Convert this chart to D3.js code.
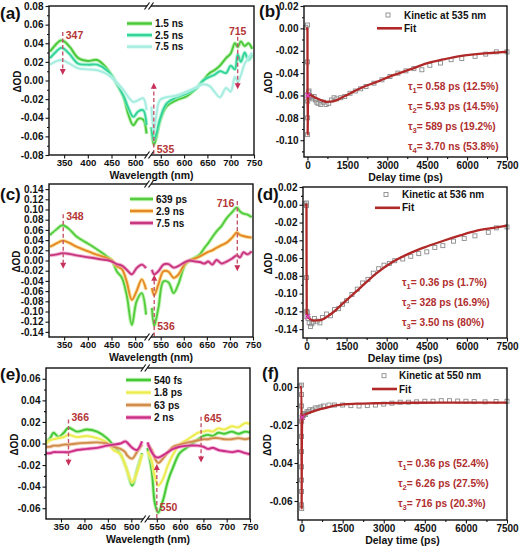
<!DOCTYPE html>
<html><head><meta charset="utf-8">
<script src="https://cdnjs.cloudflare.com/ajax/libs/d3/7.8.5/d3.min.js"></script>
<style>body{margin:0;background:#fff}</style>
</head><body>
<svg id="chart" width="520" height="546" xmlns="http://www.w3.org/2000/svg"></svg>
<script>
// ---------------- DATA ----------------
// Panel (a): TA spectra
const wlA = [320,335,343,350,362,380,400,420,440,457,475,486,496,507,517,524,
             530,535,540,548,562,584,605,627,641,655,665,677,690,700,709,715,722,730,738,746];
const a_1_5ns = [0.031,0.040,0.043,0.042,0.036,0.024,0.021,0.022,0.013,0.000,-0.017,-0.037,-0.048,-0.041,-0.042,-0.057,
             -0.050,-0.069,-0.062,-0.044,-0.028,-0.021,-0.017,-0.008,0.000,0.008,0.011,0.016,0.024,0.029,0.040,0.036,0.042,0.037,0.040,0.034];
const a_2_5ns = [0.024,0.032,0.035,0.034,0.028,0.018,0.017,0.017,0.011,0.000,-0.016,-0.030,-0.039,-0.033,-0.032,-0.048,
             -0.050,-0.064,-0.058,-0.042,-0.025,-0.018,-0.014,-0.008,0.000,0.004,0.006,0.010,0.008,0.016,0.012,0.028,0.020,0.030,0.022,0.028];
const a_7_5ns = [0.017,0.021,0.022,0.021,0.018,0.013,0.012,0.011,0.007,0.000,-0.010,-0.018,-0.023,-0.021,-0.019,-0.032,
             -0.028,-0.055,-0.039,-0.021,-0.018,-0.016,-0.012,-0.007,-0.004,-0.006,-0.012,-0.018,-0.008,-0.012,0.004,-0.002,0.006,0.018,0.024,0.030];
const legendA = ["1.5 ns","2.5 ns","7.5 ns"];

// Panel (c)
const wlC = [320,335,343,348,360,376,395,411,430,440,451,461,472,482,493,503,514,523,
             531,536,545,556,567,578,588,603,613,625,635,645,653,662,671,682,693,705,715,722,729,738,747];
const c_639ps = [0.050,0.062,0.068,0.069,0.062,0.047,0.036,0.027,0.015,0.008,0.000,-0.021,-0.034,-0.067,-0.126,-0.080,-0.064,-0.106,
             -0.093,-0.128,-0.093,-0.041,-0.043,-0.064,-0.047,-0.008,0.000,0.006,0.012,0.025,0.034,0.046,0.057,0.068,0.083,0.095,0.104,0.096,0.092,0.090,0.085];
const c_2_9ns = [0.027,0.034,0.038,0.039,0.035,0.027,0.020,0.014,0.008,0.005,0.000,-0.011,-0.017,-0.041,-0.077,-0.060,-0.037,-0.057,
             -0.054,-0.068,-0.047,-0.021,-0.022,-0.034,-0.028,-0.006,0.000,0.004,0.008,0.013,0.017,0.020,0.025,0.030,0.035,0.045,0.055,0.050,0.048,0.046,0.045];
const c_7_5ns = [0.010,0.012,0.014,0.0145,0.013,0.010,0.007,0.005,0.002,0.001,-0.002,-0.007,-0.010,-0.018,-0.027,-0.015,-0.008,-0.015,
             -0.018,-0.027,-0.021,-0.008,-0.007,-0.014,-0.011,-0.003,0.000,-0.002,-0.003,-0.006,-0.002,-0.008,0.001,-0.006,-0.002,0.004,0.010,0.006,0.016,0.012,0.018];
const legendC = ["639 ps","2.9 ns","7.5 ns"];

// Panel (e)
const wlE = [318,327,334,345,356,366,384,405,427,448,462,477,487,491,502,512,523,
             530,539,546,553,563,574,585,599,617,639,650,660,670,682,695,711,725,740,750];
const e_540fs = [0.001,0.005,0.010,0.006,0.010,0.0146,0.011,0.013,0.011,0.005,-0.002,-0.010,-0.020,-0.025,-0.039,-0.025,-0.009,
             -0.004,-0.025,-0.056,-0.064,-0.053,-0.0345,-0.022,-0.009,-0.003,0.004,0.007,0.008,0.007,0.010,0.009,0.011,0.009,0.011,0.010];
const e_1_8ps = [0.000,0.003,0.004,0.005,0.006,0.008,0.006,0.007,0.005,0.001,-0.006,-0.010,-0.020,-0.025,-0.036,-0.027,-0.010,
             -0.007,-0.016,-0.031,-0.039,-0.033,-0.020,-0.010,-0.001,0.004,0.010,0.011,0.012,0.011,0.014,0.013,0.016,0.015,0.019,0.018];
const e_63ps = [-0.003,-0.003,-0.002,-0.002,-0.001,-0.001,0.000,0.0006,0.001,0.000,-0.003,-0.005,-0.008,-0.011,-0.014,-0.008,-0.001,
             -0.001,-0.006,-0.014,-0.018,-0.014,-0.008,-0.003,-0.001,0.001,0.003,0.004,0.004,0.005,0.005,0.004,0.004,0.005,0.004,0.005];
const e_2ns = [-0.009,-0.009,-0.008,-0.008,-0.008,-0.008,-0.006,-0.005,-0.004,-0.002,-0.001,0.000,0.002,0.001,-0.004,-0.006,0.002,
             0.001,-0.008,-0.012,-0.013,-0.011,-0.008,-0.005,-0.003,-0.002,-0.002,-0.003,-0.005,-0.004,-0.006,-0.007,-0.008,-0.007,-0.009,-0.010];
const legendE = ["540 fs","1.8 ps","63 ps","2 ns"];

// Kinetics (b): [time ps, ΔOD]
const kinB = [[-60,0.001],[0,0.003],[2,-0.030],[4,-0.095],[6,-0.080],[10,-0.065],[20,-0.059],[40,-0.057],[60,-0.056],[80,-0.060],
  [100,-0.062],[150,-0.061],[200,-0.063],[250,-0.061],[300,-0.064],[350,-0.066],[400,-0.067],[500,-0.068],[600,-0.066],[700,-0.068],
  [800,-0.067],[900,-0.064],[1000,-0.062],[1100,-0.063],[1250,-0.062],[1400,-0.061],[1600,-0.058],[1800,-0.056],[2000,-0.054],[2200,-0.052],
  [2500,-0.049],[2800,-0.046],[3100,-0.043],[3400,-0.040],[3700,-0.038],[4000,-0.036],[4300,-0.037],[4600,-0.033],[5000,-0.031],[5400,-0.028],
  [5800,-0.027],[6300,-0.025],[6700,-0.023],[7100,-0.021],[7500,-0.021]];
const fitB = [[-60,0],[0,0],[3,-0.050],[8,-0.095],[20,-0.060],[60,-0.059],[150,-0.060],[300,-0.062],[500,-0.064],[722,-0.0657],
  [1000,-0.065],[1350,-0.0612],[1975,-0.0537],[2600,-0.0478],[3230,-0.0418],[3855,-0.0367],[4480,-0.0313],[5100,-0.0278],[5730,-0.0248],
  [6360,-0.023],[7000,-0.0218],[7500,-0.0209]];
const tauB = ["0.58 ps (12.5%)","5.93 ps (14.5%)","589 ps (19.2%)","3.70 ns (53.8%)"];

// Kinetics (d)
const kinD = [[-60,0.001],[0,0.002],[2,-0.001],[4,-0.082],[8,-0.120],[15,-0.126],[30,-0.121],[60,-0.128],[100,-0.133],[150,-0.137],
  [200,-0.134],[250,-0.132],[300,-0.128],[400,-0.131],[500,-0.133],[600,-0.127],[750,-0.123],[900,-0.125],[1050,-0.118],[1200,-0.117],
  [1350,-0.112],[1500,-0.108],[1700,-0.101],[1900,-0.095],[2100,-0.088],[2300,-0.084],[2500,-0.077],[2700,-0.072],[2900,-0.068],[3100,-0.066],
  [3300,-0.063],[3600,-0.061],[3900,-0.058],[4200,-0.055],[4500,-0.053],[4800,-0.048],[5100,-0.046],[5500,-0.041],[5900,-0.038],[6300,-0.035],
  [6800,-0.031],[7100,-0.026],[7500,-0.025]];
const fitD = [[-60,0],[0,0],[3,-0.060],[10,-0.122],[50,-0.126],[150,-0.129],[300,-0.1305],[500,-0.130],[750,-0.1265],[1000,-0.121],
  [1375,-0.1107],[2000,-0.0938],[2625,-0.0769],[3250,-0.0638],[3875,-0.0544],[4500,-0.047],[5125,-0.0405],[5750,-0.0345],[6375,-0.0292],
  [7000,-0.026],[7500,-0.0235]];
const tauD = ["0.36 ps (1.7%)","328 ps (16.9%)","3.50 ns (80%)"];

// Kinetics (f)
const kinF = [[-60,0.0005],[0,0.001],[0,-0.004],[0,-0.010],[0,-0.018],[0,-0.026],[0,-0.034],[0,-0.042],[0,-0.049],[0,-0.055],[0,-0.062],
  [5,-0.064],[20,-0.016],[40,-0.015],[70,-0.015],[100,-0.014],[150,-0.0145],[200,-0.013],[250,-0.013],[300,-0.012],[400,-0.012],[500,-0.011],
  [600,-0.011],[700,-0.0105],[800,-0.010],[1000,-0.0095],[1200,-0.0095],[1500,-0.0095],[1800,-0.0098],[2100,-0.010],[2400,-0.0098],
  [2700,-0.0095],[3000,-0.009],[3300,-0.0085],[3600,-0.008],[3900,-0.008],[4200,-0.0078],[4500,-0.0075],[4800,-0.0075],[5100,-0.0072],
  [5400,-0.0072],[5700,-0.0074],[6000,-0.0075],[6300,-0.0077],[6700,-0.0078],[7100,-0.0076],[7500,-0.0075]];
const fitF = [[-60,0],[0,0],[3,-0.064],[10,-0.030],[30,-0.016],[100,-0.0148],[300,-0.0135],[600,-0.012],[900,-0.011],[1200,-0.0098],
  [1500,-0.0092],[2000,-0.0088],[2500,-0.0086],[3000,-0.0085],[4000,-0.0083],[5000,-0.0082],[6000,-0.0082],[7500,-0.0082]];
const tauF = ["0.36 ps (52.4%)","6.26 ps (27.5%)","716 ps (20.3%)"];

// Tick labels
const wlTicksLeft = [350,400,450,500];
const wlTicksRight = [550,600,650,700,750];
const timeTicks = [0,1500,3000,4500,6000,7500];
const timeMinor = [750,2250,3750,5250,6750];
const yTicksA = [-0.08,-0.06,-0.04,-0.02,0,0.02,0.04,0.06,0.08];
const yMinorA = [-0.07,-0.05,-0.03,-0.01,0.01,0.03,0.05,0.07];
const yTicksC = [-0.14,-0.12,-0.10,-0.08,-0.06,-0.04,-0.02,0,0.02,0.04,0.06,0.08,0.10,0.12,0.14];
const yTicksE = [-0.06,-0.04,-0.02,0,0.02,0.04,0.06];
const yMinorE = [-0.05,-0.03,-0.01,0.01,0.03,0.05];
const yTicksB = [-0.10,-0.08,-0.06,-0.04,-0.02,0,0.02];
const yMinorB = [-0.11,-0.09,-0.07,-0.05,-0.03,-0.01,0.01];
const yTicksD = [-0.14,-0.12,-0.10,-0.08,-0.06,-0.04,-0.02,0,0.02];
const yMinorD = [-0.13,-0.11,-0.09,-0.07,-0.05,-0.03,-0.01,0.01];
const yTicksF = [-0.06,-0.04,-0.02,0];
const yMinorF = [-0.05,-0.03,-0.01];

// ---------------- DRAWING ----------------
const FONT = "'Liberation Sans', Arial, Helvetica, sans-serif";
const svg = d3.select('#chart');
const INK = '#111';
const ANN_LINE = '#c4566c', ANN_ARROW = '#c8305a', ANN_TEXT = '#b43636', TAU = '#b02e2e', FIT = '#b02828';

function txt(g, x, y, s, size, anchor, color) {
  return g.append('text').attr('x', x).attr('y', y).attr('font-family', FONT).attr('font-weight', 'bold')
    .attr('font-size', size).attr('text-anchor', anchor || 'start').attr('fill', color || INK).text(s);
}
function styleAxis(ax, fs) {
  ax.attr('font-family', FONT).attr('font-size', fs).attr('font-weight', 'bold');
  ax.select('.domain').remove();
  ax.selectAll('line').attr('stroke', INK).attr('stroke-width', 1.1);
  ax.selectAll('text').attr('fill', INK);
}
function yAxes(g, y, x0, major, minor) {
  const ax = g.append('g').attr('transform', `translate(${x0},0)`)
    .call(d3.axisLeft(y).tickValues(major).tickFormat(d => d.toFixed(2)).tickSize(3.5).tickPadding(2));
  styleAxis(ax, 10);
  if (minor) {
    const m = g.append('g').attr('transform', `translate(${x0},0)`)
      .call(d3.axisLeft(y).tickValues(minor).tickFormat('').tickSize(2));
    styleAxis(m, 10);
  }
}
function yTitle(g, x, yc) {
  txt(g, 0, 0, 'ΔOD', 10, 'middle').attr('transform', `translate(${x},${yc}) rotate(-90)`);
}
function frame(g, L) {
  g.append('rect').attr('x', L.x0).attr('y', L.y0).attr('width', L.x1 - L.x0).attr('height', L.y1 - L.y0)
    .attr('fill', 'none').attr('stroke', INK).attr('stroke-width', 1.4);
}
function panelLabel(g, x, y, s) { txt(g, x, y, s, 17, 'start'); }

function arrowHead(g, x, y, dir) {
  const h = 6, w = 3;
  g.append('path').attr('d', `M${x - w},${y - dir * h}L${x + w},${y - dir * h}L${x},${y}Z`).attr('fill', ANN_ARROW);
}

function spectraPanel(L, S) {
  const g = svg.append('g');
  const xL = d3.scaleLinear().domain([318, 525]).range([L.x0, L.bL]);
  const xR = d3.scaleLinear().domain([L.rStart, 750]).range([L.bR, L.x1]);
  const x = nm => nm <= 526 ? xL(nm) : xR(nm);
  const y = d3.scaleLinear().domain(S.yDomain).range([L.y1, L.y0]);
  const line = d3.line().x(p => x(p[0])).y(p => y(p[1])).curve(d3.curveCatmullRom.alpha(0.5));

  S.series.forEach(s => {
    const pts = S.wl.map((w, i) => [w, s.vals[i]]);
    [pts.filter(p => p[0] <= 526), pts.filter(p => p[0] > 526)].forEach(seg => {
      g.append('path').attr('d', line(seg)).attr('fill', 'none').attr('stroke', s.halo)
        .attr('stroke-width', 3.8).attr('stroke-opacity', 0.7).attr('stroke-linejoin', 'round');
      g.append('path').attr('d', line(seg)).attr('fill', 'none').attr('stroke', s.color)
        .attr('stroke-width', 1.9).attr('stroke-linejoin', 'round');
    });
  });

  S.series.forEach((s, i) => {
    const ly = L.legY + i * L.legDy;
    g.append('line').attr('x1', L.legX1).attr('x2', L.legX2).attr('y1', ly).attr('y2', ly)
      .attr('stroke', s.halo).attr('stroke-width', 4.5).attr('stroke-opacity', 0.7);
    g.append('line').attr('x1', L.legX1).attr('x2', L.legX2).attr('y1', ly).attr('y2', ly)
      .attr('stroke', s.color).attr('stroke-width', 2.4);
    txt(g, L.legX2 + 3, ly + 3.6, s.name, 10, 'start');
  });

  S.ann.forEach(a => {
    const ax = x(a.nm);
    const yA = y(a.from), yB = y(a.to);
    const dir = yB > yA ? 1 : -1;
    g.append('line').attr('x1', ax).attr('x2', ax).attr('y1', yA).attr('y2', yB - dir * 4)
      .attr('stroke', ANN_LINE).attr('stroke-width', 1.4).attr('stroke-dasharray', '4,2.5');
    arrowHead(g, ax, yB, dir);
    const tx = a.anchor === 'end' ? ax - 3 : (a.anchor === 'middle' ? ax : ax + 3);
    txt(g, tx, y(a.ly) + 3.8, a.label, 10.5, a.anchor, ANN_TEXT);
  });

  yAxes(g, y, L.x0, S.yMajor, S.yMinor);
  const axl = g.append('g').attr('transform', `translate(0,${L.y1})`)
    .call(d3.axisBottom(xL).tickValues(wlTicksLeft).tickFormat(d => d).tickSize(3.5).tickPadding(1));
  styleAxis(axl, 9.6);
  const axr = g.append('g').attr('transform', `translate(0,${L.y1})`)
    .call(d3.axisBottom(xR).tickValues(wlTicksRight).tickFormat(d => d).tickSize(3.5).tickPadding(1));
  styleAxis(axr, 9.6);
  frame(g, L);
  const xb = (L.bL + L.bR) / 2;
  [L.y0, L.y1].forEach(yy => {
    g.append('rect').attr('x', L.bL).attr('y', yy - 2).attr('width', L.bR - L.bL).attr('height', 4).attr('fill', '#fff');
    [-2, 2].forEach(o => {
      g.append('line').attr('x1', xb + o - 2.5).attr('y1', yy + 3.5).attr('x2', xb + o + 2.5).attr('y2', yy - 3.5)
        .attr('stroke', INK).attr('stroke-width', 1.2);
    });
  });
  txt(g, (L.x0 + L.x1) / 2, L.y1 + 23.5, 'Wavelength (nm)', 10.5, 'middle');
  yTitle(g, L.yTitleX, (L.y0 + L.y1) / 2 + 1);
  panelLabel(g, L.labX, L.labY, S.label);
}

function kineticPanel(L, K) {
  const g = svg.append('g');
  const x = d3.scaleLinear().domain([-130, 7500]).range([L.x0, L.x1]);
  const y = d3.scaleLinear().domain(K.yDomain).range([L.y1, L.y0]);
  g.selectAll(null).data(K.kin).enter().append('rect')
    .attr('x', d => x(d[0]) - 2).attr('y', d => y(d[1]) - 2).attr('width', 4).attr('height', 4)
    .attr('fill', 'none').attr('stroke', '#8c8c8c').attr('stroke-width', 0.9);
  const line = d3.line().x(d => x(d[0])).y(d => y(d[1])).curve(d3.curveMonotoneX);
  g.append('path').attr('d', line(K.fit)).attr('fill', 'none').attr('stroke', FIT).attr('stroke-width', 2.3)
    .attr('stroke-linejoin', 'round');
  const hp = K.fit[4];
  g.append('path').attr('d', `M${x(hp[0]) - 2.5},${y(hp[1]) - 2.5}l5,5M${x(hp[0]) - 2.5},${y(hp[1]) + 2.5}l5,-5`)
    .attr('stroke', '#e040c0').attr('stroke-width', 1.2);
  g.append('rect').attr('x', L.legSqX - 2).attr('y', L.legY - 2).attr('width', 4).attr('height', 4)
    .attr('fill', 'none').attr('stroke', '#8c8c8c').attr('stroke-width', 0.9);
  txt(g, L.legTx, L.legY + 3.6, K.legend, 10, 'start');
  g.append('line').attr('x1', L.fitX1).attr('x2', L.fitX2).attr('y1', L.legY + 13.3).attr('y2', L.legY + 13.3)
    .attr('stroke', FIT).attr('stroke-width', 2.6);
  txt(g, L.legTx, L.legY + 13.3 + 3.6, 'Fit', 10, 'start');
  K.tau.forEach((s, i) => {
    const t = g.append('text').attr('x', L.tauX).attr('y', L.tauY + i * L.tauDy + 3.6)
      .attr('font-family', FONT).attr('font-weight', 'bold').attr('font-size', 10.2).attr('fill', TAU);
    t.append('tspan').text('τ');
    t.append('tspan').attr('font-size', 7.5).attr('dy', 3).text(String(i + 1));
    t.append('tspan').attr('dy', -3).text('= ' + s);
  });
  yAxes(g, y, L.x0, K.yMajor, K.yMinor);
  const ax = g.append('g').attr('transform', `translate(0,${L.y1})`)
    .call(d3.axisBottom(x).tickValues(timeTicks).tickFormat(d => d).tickSize(3.5).tickPadding(1));
  styleAxis(ax, 10);
  const axm = g.append('g').attr('transform', `translate(0,${L.y1})`)
    .call(d3.axisBottom(x).tickValues(timeMinor).tickFormat('').tickSize(2));
  styleAxis(axm, 10);
  frame(g, L);
  txt(g, (L.x0 + L.x1) / 2, L.y1 + 23.5, 'Delay time (ps)', 10.5, 'middle');
  yTitle(g, L.yTitleX, (L.y0 + L.y1) / 2 + 1);
  panelLabel(g, L.labX, L.labY, K.label);
}

spectraPanel(
  {x0: 49, x1: 254, y0: 6, y1: 155, bL: 147, bR: 151, rStart: 529, legX1: 127, legX2: 152, legY: 23.5, legDy: 11.6,
   yTitleX: 21, labX: 0, labY: 19},
  {label: '(a)', wl: wlA, yDomain: [-0.08, 0.08], yMajor: yTicksA, yMinor: yMinorA,
   series: [
     {name: legendA[0], vals: a_1_5ns, color: '#4cc83c', halo: '#a4ec96'},
     {name: legendA[1], vals: a_2_5ns, color: '#34d39a', halo: '#96f2cc'},
     {name: legendA[2], vals: a_7_5ns, color: '#a6ece0', halo: '#d6f9f1'}],
   ann: [
     {nm: 347, from: 0.052, to: 0.006, label: '347', ly: 0.049, anchor: 'start'},
     {nm: 715, from: 0.047, to: -0.0095, label: '715', ly: 0.053, anchor: 'middle'},
     {nm: 535, from: -0.079, to: -0.0024, label: '535', ly: -0.074, anchor: 'start'}]});

spectraPanel(
  {x0: 49, x1: 253, y0: 184, y1: 337, bL: 147, bR: 151, rStart: 529, legX1: 130, legX2: 153, legY: 199, legDy: 12,
   yTitleX: 20, labX: 0, labY: 200},
  {label: '(c)', wl: wlC, yDomain: [-0.15, 0.15], yMajor: yTicksC, yMinor: null,
   series: [
     {name: legendC[0], vals: c_639ps, color: '#55cc3f', halo: '#aaf094'},
     {name: legendC[1], vals: c_2_9ns, color: '#e4882a', halo: '#f8d46e'},
     {name: legendC[2], vals: c_7_5ns, color: '#c8367e', halo: '#ec98c6'}],
   ann: [
     {nm: 348, from: 0.0906, to: -0.016, label: '348', ly: 0.086, anchor: 'start'},
     {nm: 716, from: 0.1166, to: -0.021, label: '716', ly: 0.112, anchor: 'end'},
     {nm: 536, from: -0.149, to: -0.028, label: '536', ly: -0.129, anchor: 'start'}]});

spectraPanel(
  {x0: 46, x1: 250, y0: 368, y1: 519, bL: 143, bR: 147.5, rStart: 530, legX1: 126, legX2: 151, legY: 380, legDy: 12.5,
   yTitleX: 18, labX: 0, labY: 380},
  {label: '(e)', wl: wlE, yDomain: [-0.07, 0.07], yMajor: yTicksE, yMinor: yMinorE,
   series: [
     {name: legendE[0], vals: e_540fs, color: '#44c836', halo: '#a2ec92'},
     {name: legendE[1], vals: e_1_8ps, color: '#ecec50', halo: '#f8f8aa'},
     {name: legendE[2], vals: e_63ps, color: '#d08c4c', halo: '#eec496'},
     {name: legendE[3], vals: e_2ns, color: '#cc2e86', halo: '#ee92c8'}],
   ann: [
     {nm: 366, from: 0.0223, to: -0.0207, label: '366', ly: 0.0246, anchor: 'start'},
     {nm: 645, from: 0.0248, to: -0.0176, label: '645', ly: 0.0239, anchor: 'start'},
     {nm: 550, from: -0.069, to: -0.019, label: '550', ly: -0.059, anchor: 'start'}]});

kineticPanel(
  {x0: 304, x1: 507, y0: 6, y1: 157, legSqX: 388, legY: 15, legTx: 404, fitX1: 377, fitX2: 402,
   tauX: 408, tauY: 86, tauDy: 20, yTitleX: 272, labX: 259, labY: 17},
  {label: '(b)', kin: kinB, fit: fitB, tau: tauB, legend: 'Kinetic at 535 nm',
   yDomain: [-0.115, 0.02], yMajor: yTicksB, yMinor: yMinorB});

kineticPanel(
  {x0: 303, x1: 507, y0: 187, y1: 338, legSqX: 386, legY: 194.5, legTx: 402, fitX1: 375, fitX2: 400,
   tauX: 402, tauY: 282.7, tauDy: 20, yTitleX: 272, labX: 257, labY: 200},
  {label: '(d)', kin: kinD, fit: fitD, tau: tauD, legend: 'Kinetic at 536 nm',
   yDomain: [-0.15, 0.02], yMajor: yTicksD, yMinor: yMinorD});

kineticPanel(
  {x0: 298, x1: 507, y0: 368, y1: 520, legSqX: 384, legY: 375.7, legTx: 399, fitX1: 372, fitX2: 397,
   tauX: 398, tauY: 463.3, tauDy: 20, yTitleX: 271, labX: 262, labY: 379},
  {label: '(f)', kin: kinF, fit: fitF, tau: tauF, legend: 'Kinetic at 550 nm',
   yDomain: [-0.07, 0.01], yMajor: yTicksF, yMinor: yMinorF});
</script>
</body></html>
